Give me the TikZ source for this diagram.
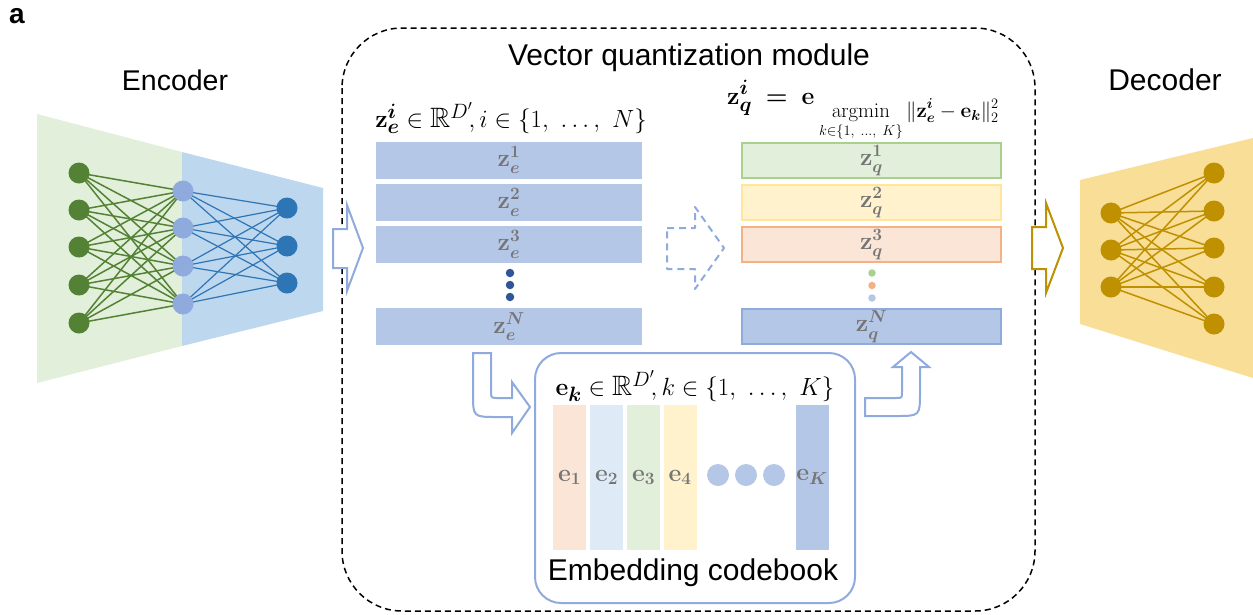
\documentclass[tikz,border=0pt]{standalone}
\usepackage{amsmath,amssymb}
\usepackage[no-math]{fontspec}
\setmainfont{Liberation Sans}
\usetikzlibrary{calc}

\definecolor{encgreen}{HTML}{E2EFDA}
\definecolor{encblue}{HTML}{BDD7EE}
\definecolor{nodegreen}{HTML}{548235}
\definecolor{nodelblue}{HTML}{8FAADC}
\definecolor{nodedblue}{HTML}{2E75B6}
\definecolor{decfill}{HTML}{F8DE96}
\definecolor{decnode}{HTML}{BF9000}
\definecolor{zfill}{HTML}{B4C7E7}
\definecolor{zline}{HTML}{8FAADC}
\definecolor{qgreenfill}{HTML}{E2EFDA}
\definecolor{qgreenline}{HTML}{A9D18E}
\definecolor{qyellowfill}{HTML}{FFF2CC}
\definecolor{qyellowline}{HTML}{FFE699}
\definecolor{qorangefill}{HTML}{FBE5D6}
\definecolor{qorangeline}{HTML}{F4B183}
\definecolor{cbblue}{HTML}{DEEBF7}
\definecolor{labelgray}{HTML}{757575}
\definecolor{dotblue}{HTML}{2F5597}

\pgfdeclarelayer{bg}
\pgfdeclarelayer{wires}
\pgfsetlayers{bg,wires,main}

\newcommand{\fsz}[1]{\fontsize{#1}{#1}\selectfont}
\newcommand{\bvec}[1]{\boldsymbol{#1}}

\begin{document}
\begin{tikzpicture}[x=1pt,y=-1pt,
  neuron/.style={circle,minimum size=21pt,inner sep=0pt,fill=#1},
  gedge/.style={nodegreen,line width=1.5pt},
  bedge/.style={nodedblue,line width=1.2pt},
  dedge/.style={decnode,line width=1.5pt},
  hollow/.style={draw=zline,line width=2pt,line join=miter,fill=white},
  boxlabel/.style={text=labelgray,font=\fsz{23}},
  zbox/.style={boxlabel,fill=zfill,minimum width=266pt,minimum height=37pt,inner sep=0pt},
  qbox/.style={boxlabel,draw=#1,line width=2pt,minimum width=259pt,minimum height=35pt,inner sep=0pt},
  cbcol/.style={boxlabel,fill=#1,minimum width=33pt,minimum height=145pt,inner sep=0pt},
  title/.style={font=\fsz{30},inner sep=0pt},
  formula/.style={font=\fsz{28},inner sep=0pt},
  smalldot/.style={circle,inner sep=0pt,minimum size=#1},
]
\useasboundingbox (0,0) rectangle (1253,614);

% panel letter and titles
\node[font=\bfseries\fsz{28},anchor=north west,inner sep=0pt] (panel) at (9,8) {a};
\node[title,font=\fsz{28.5}] (enctitle) at (175,80) {Encoder};
\node[title] (dectitle) at (1165,80) {Decoder};
\node[title] (vqtitle) at (689,58) {Vector quantization module};

% ---------------- encoder ----------------
\begin{pgfonlayer}{bg}
  \fill[encgreen] (37,114) -- (182,152) -- (182,346) -- (37,383) -- cycle;
  \fill[encblue] (182,152) -- (323,188) -- (323,311) -- (182,346) -- cycle;
  \fill[decfill] (1080,180) -- (1253,138) -- (1253,378) -- (1080,324) -- cycle;
\end{pgfonlayer}

\foreach \y [count=\i] in {173,210,247,285,323}
  \node[neuron=nodegreen] (g\i) at (79,\y) {};
\foreach \y [count=\i] in {191,228,266,304}
  \node[neuron=nodelblue] (h\i) at (183,\y) {};
\foreach \y [count=\i] in {208,246,283}
  \node[neuron=nodedblue] (o\i) at (287,\y) {};

\begin{pgfonlayer}{wires}
  \foreach \a in {1,...,5}
    \foreach \b in {1,...,4}
      \draw[gedge] (g\a.center) -- (h\b.center);
  \foreach \a in {1,...,4}
    \foreach \b in {1,...,3}
      \draw[bedge] (h\a.center) -- (o\b.center);
\end{pgfonlayer}

% ---------------- decoder ----------------
\foreach \y [count=\i] in {213,250,287}
  \node[neuron=decnode] (d\i) at (1111,\y) {};
\foreach \y [count=\i] in {173,211,248,287,324}
  \node[neuron=decnode] (r\i) at (1214,\y) {};
\begin{pgfonlayer}{wires}
  \foreach \a in {1,...,3}
    \foreach \b in {1,...,5}
      \draw[dedge] (d\a.center) -- (r\b.center);
\end{pgfonlayer}

% ---------------- vector quantization module ----------------
\draw[dash pattern=on 6pt off 4pt,line width=1.5pt,rounded corners=60pt]
  (342,28) rectangle (1035,611);

% encoder -> module arrow
\draw[hollow] (333,229) -- (347,229) -- (347,205) -- (363,248) -- (347,291)
  -- (347,268) -- (333,268) -- cycle;
% module -> decoder arrow
\draw[hollow,draw=decnode] (1032,227) -- (1046,227) -- (1046,203) -- (1063,248)
  -- (1046,293) -- (1046,269) -- (1032,269) -- cycle;

% encoder outputs
\node[formula] (zehead) at (511,118)
  {$\mathbf{z}_{\bvec{e}}^{\bvec{i}}\in\mathbb{R}^{D'}\!,i\in\{1,\ \dots,\ N\}$};
\node[zbox] (ze1) at (509,160) {$\bvec{\mathbf{z}_e^1}$};
\node[zbox] (ze2) at (509,202.5) {$\bvec{\mathbf{z}_e^2}$};
\node[zbox] (ze3) at (509,244.5) {$\bvec{\mathbf{z}_e^3}$};
\node[zbox] (zeN) at (509,326.5) {$\bvec{\mathbf{z}_e^N}$};
\foreach \y [count=\i] in {273,285,297}
  \node[smalldot=8.5pt,fill=dotblue] (zedot\i) at (510,\y) {};

% dashed arrow between the two columns
\draw[hollow,fill=none,dash pattern=on 7pt off 5pt,line join=round]
  (667,228) -- (695,228) -- (695,207) -- (724,248) -- (695,289)
  -- (695,269) -- (667,269) -- cycle;

% quantized outputs and the nearest-codeword rule
\node[anchor=base west,inner sep=0pt,font=\fsz{28}] (zqhead) at (727,104)
  {$\bvec{\mathbf{z}_q^i}\;\bvec{=}\;\mathbf{e}$\,{\fsz{22}\raisebox{-13pt}{$\displaystyle
    \operatorname*{argmin}_{k\in\{1,\ \dots,\ K\}}
    \|\mathbf{z}_{\bvec{e}}^{\bvec{i}}-\mathbf{e}_{\bvec{k}}\|_2^2$}}};
\node[qbox=qgreenline,fill=qgreenfill] (zq1) at (871.5,160.5) {$\bvec{\mathbf{z}_q^1}$};
\node[qbox=qyellowline,fill=qyellowfill] (zq2) at (871.5,202.5) {$\bvec{\mathbf{z}_q^2}$};
\node[qbox=qorangeline,fill=qorangefill] (zq3) at (871.5,244.5) {$\bvec{\mathbf{z}_q^3}$};
\node[qbox=zline,fill=zfill] (zqN) at (871.5,326.5) {$\bvec{\mathbf{z}_q^N}$};
\node[smalldot=7.5pt,fill=qgreenline] (zqdot1) at (872,273) {};
\node[smalldot=7.5pt,fill=qorangeline] (zqdot2) at (872,285.5) {};
\node[smalldot=7.5pt,fill=zfill] (zqdot3) at (872,298) {};

% ---------------- embedding codebook ----------------
\node[draw=zline,line width=2pt,rounded corners=26pt,minimum width=320pt,
  minimum height=250pt,inner sep=0pt] (codebook) at (695,478) {};
\node[formula] (cbhead) at (695,386)
  {$\mathbf{e}_{\bvec{k}}\in\mathbb{R}^{D'}\!,k\in\{1,\ \dots,\ K\}$};
\node[cbcol=qorangefill] (e1) at (569.5,477.5) {$\bvec{\mathbf{e}_1}$};
\node[cbcol=cbblue] (e2) at (606.5,477.5) {$\bvec{\mathbf{e}_2}$};
\node[cbcol=qgreenfill] (e3) at (643.5,477.5) {$\bvec{\mathbf{e}_3}$};
\node[cbcol=qyellowfill] (e4) at (680,477.5) {$\bvec{\mathbf{e}_4}$};
\node[cbcol=zfill] (eK) at (812,477) {$\bvec{\mathbf{e}_K}$};
\foreach \x [count=\i] in {718,746,774}
  \node[smalldot=22pt,fill=zfill] (cbdot\i) at (\x,475) {};
\node[title] (cbtitle) at (693,573) {Embedding codebook};

% bent arrows into and out of the codebook
\draw[hollow] (473,353) -- (491,353) -- (491,391) .. controls (491,398) .. (498,398)
  -- (512,398) -- (512,382) -- (530,407) -- (512,433) -- (512,417)
  -- (497,417) .. controls (473,417) .. (473,393) -- cycle;
\draw[hollow] (865,398) -- (896,398) .. controls (902,398) .. (902,392)
  -- (902,367) -- (893,367) -- (911,352) -- (929,367) -- (920,367)
  -- (920,392) .. controls (920,416) .. (896,416) -- (865,416) -- cycle;
\end{tikzpicture}
\end{document}
